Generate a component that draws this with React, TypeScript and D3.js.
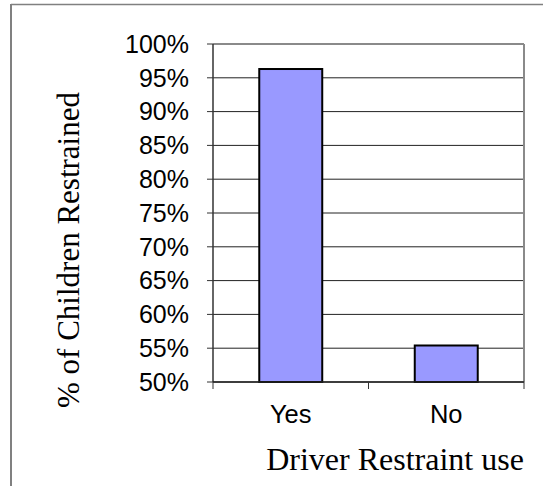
import React from "react";
import * as d3 from "d3";

const categories = ["Yes", "No"];
const values = [96.3, 55.4];
const yTicks = [50, 55, 60, 65, 70, 75, 80, 85, 90, 95, 100];
const xTitle = "Driver Restraint use";
const yTitle = "% of Children Restrained";

const W = 543;
const H = 486;
const plot = { left: 213, top: 44, right: 524, bottom: 382 };

export default function App() {
  const x = d3
    .scaleBand<string>()
    .domain(categories)
    .range([plot.left, plot.right])
    .paddingInner(0)
    .paddingOuter(0);
  const y = d3.scaleLinear().domain([50, 100]).range([plot.bottom, plot.top]);
  const barW = x.bandwidth() * 0.405;

  const boundaries = [plot.left, ...categories.map((c) => (x(c) as number) + x.bandwidth())];

  return (
    <svg
      width={W}
      height={H}
      style={{ position: "absolute", left: 0, top: 0, background: "#fff" }}
    >
      {/* outer frame */}
      <line x1={11} y1={4.5} x2={W} y2={4.5} stroke="#808080" strokeWidth={1.5} />
      <line x1={11} y1={4} x2={11} y2={H} stroke="#808080" strokeWidth={2} />

      {/* gridlines */}
      {yTicks.map((t) => (
        <line
          key={"g" + t}
          x1={plot.left}
          x2={plot.right}
          y1={y(t)}
          y2={y(t)}
          stroke={t === 100 ? "#8a8a8a" : "#222"}
          strokeWidth={t === 100 ? 2 : 1}
        />
      ))}
      {/* plot area right border */}
      <line x1={plot.right} x2={plot.right} y1={plot.top} y2={plot.bottom} stroke="#8a8a8a" strokeWidth={2} />

      {/* bars */}
      {categories.map((c, i) => {
        const cx = (x(c) as number) + x.bandwidth() / 2;
        return (
          <rect
            key={c}
            x={cx - barW / 2}
            y={y(values[i])}
            width={barW}
            height={y(50) - y(values[i])}
            fill="#9999FF"
            stroke="#000"
            strokeWidth={2}
          />
        );
      })}

      {/* y axis */}
      <line x1={plot.left} x2={plot.left} y1={plot.top} y2={plot.bottom} stroke="#333" strokeWidth={1.5} />
      {yTicks.map((t) => (
        <g key={"t" + t}>
          <line x1={plot.left - 6} x2={plot.left} y1={y(t)} y2={y(t)} stroke="#333" strokeWidth={1} />
          <text
            x={189}
            y={y(t)}
            dy="0.35em"
            textAnchor="end"
            fontFamily="Liberation Sans, Arial, sans-serif"
            fontSize={25}
            fill="#000"
          >
            {t}%
          </text>
        </g>
      ))}

      {/* x axis */}
      <line x1={plot.left} x2={plot.right} y1={plot.bottom} y2={plot.bottom} stroke="#222" strokeWidth={1.5} />
      {boundaries.map((b, i) => (
        <line key={"xt" + i} x1={b} x2={b} y1={plot.bottom} y2={plot.bottom + 7} stroke="#333" strokeWidth={1} />
      ))}
      {categories.map((c) => (
        <text
          key={"l" + c}
          x={(x(c) as number) + x.bandwidth() / 2}
          y={423}
          textAnchor="middle"
          fontFamily="Liberation Sans, Arial, sans-serif"
          fontSize={25.5}
          fill="#000"
        >
          {c}
        </text>
      ))}

      {/* axis titles */}
      <text
        x={395}
        y={470}
        textAnchor="middle"
        fontFamily="Liberation Serif, Times New Roman, serif"
        fontSize={32}
        fill="#000"
      >
        {xTitle}
      </text>
      <text
        transform={`translate(79,250) rotate(-90)`}
        textAnchor="middle"
        fontFamily="Liberation Serif, Times New Roman, serif"
        fontSize={31}
        fill="#000"
      >
        {yTitle}
      </text>
    </svg>
  );
}
